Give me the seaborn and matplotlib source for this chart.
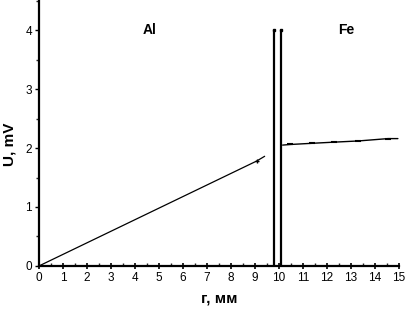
import matplotlib
matplotlib.use("Agg")
import matplotlib.pyplot as plt
import seaborn as sns
import numpy as np
import pandas as pd
from matplotlib.ticker import MultipleLocator

al_r = [0.0, 9.07, 9.4]
al_u = [0.0, 1.78, 1.86]
fe_r = [10.15, 10.46, 11.36, 12.3, 13.3, 14.54, 14.95]
fe_u = [2.05, 2.06, 2.08, 2.1, 2.12, 2.16, 2.16]
wall_r = [9.8, 10.1]
wall_u = [0.0, 4.0]
xticks = list(range(0, 16))
yticks = [0, 1, 2, 3, 4]

sns.set_theme(style="white")
plt.rcParams['font.family'] = ['Liberation Sans', 'DejaVu Sans']
plt.rcParams['text.color'] = 'black'
plt.rcParams['axes.labelcolor'] = 'black'

fig = plt.figure(figsize=(4.06, 3.14), dpi=100)
ax = fig.add_axes([0.096, 0.153, 0.887, 0.845])

al = pd.DataFrame({"r": al_r, "u": al_u})
fe = pd.DataFrame({"r": fe_r, "u": fe_u})
sns.lineplot(data=al, x="r", y="u", ax=ax, color="black", lw=0.9, sort=False)
sns.lineplot(data=fe, x="r", y="u", ax=ax, color="black", lw=1.0, sort=False)
ax.plot([al_r[1]], [al_u[1]], marker="+", color="black", ms=3, mew=1)
ax.plot(fe_r[1:-1:], fe_u[1:-1:], ls="none", marker="_", color="black", ms=4, mew=1.5)
for w in wall_r:
    ax.plot([w, w], wall_u, color="black", lw=1.6, solid_capstyle="butt")
    ax.plot([w], [wall_u[1]], marker="s", ms=2, color="black")

ax.set_xlim(0, 15)
ax.set_ylim(0, 4.5)
ax.set_xticks(xticks)
ax.set_yticks(yticks)
ax.xaxis.set_minor_locator(MultipleLocator(0.5))
ax.yaxis.set_minor_locator(MultipleLocator(0.5))
for s in ["top", "right"]:
    ax.spines[s].set_visible(False)
for s in ["left", "bottom"]:
    ax.spines[s].set_color("black")
    ax.spines[s].set_linewidth(1.6)
ax.tick_params(axis="x", which="major", direction="inout", length=5, width=1.2, labelsize=8.5, colors="black", pad=2, bottom=True)
ax.tick_params(axis="x", which="minor", direction="in", length=2.5, width=1.0, bottom=True)
ax.tick_params(axis="y", which="major", direction="out", length=3, width=1.0, labelsize=8.5, colors="black", pad=2, left=True)
ax.tick_params(axis="y", which="minor", direction="out", length=2, width=1.0, left=True)
ax.set_xlabel("г, мм", fontsize=11, fontweight="bold", color="black")
ax.set_ylabel("U, mV", fontsize=11, fontweight="bold", color="black")
ax.xaxis.set_label_coords(0.5, -0.095)
ax.yaxis.set_label_coords(-0.062, 0.46)
ax.text(4.6, 4.0, "Al", fontsize=10, fontweight="bold", ha="center", va="center", color="black")
ax.text(12.8, 4.0, "Fe", fontsize=10, fontweight="bold", ha="center", va="center", color="black")
fig.savefig("out.png", dpi=100)
